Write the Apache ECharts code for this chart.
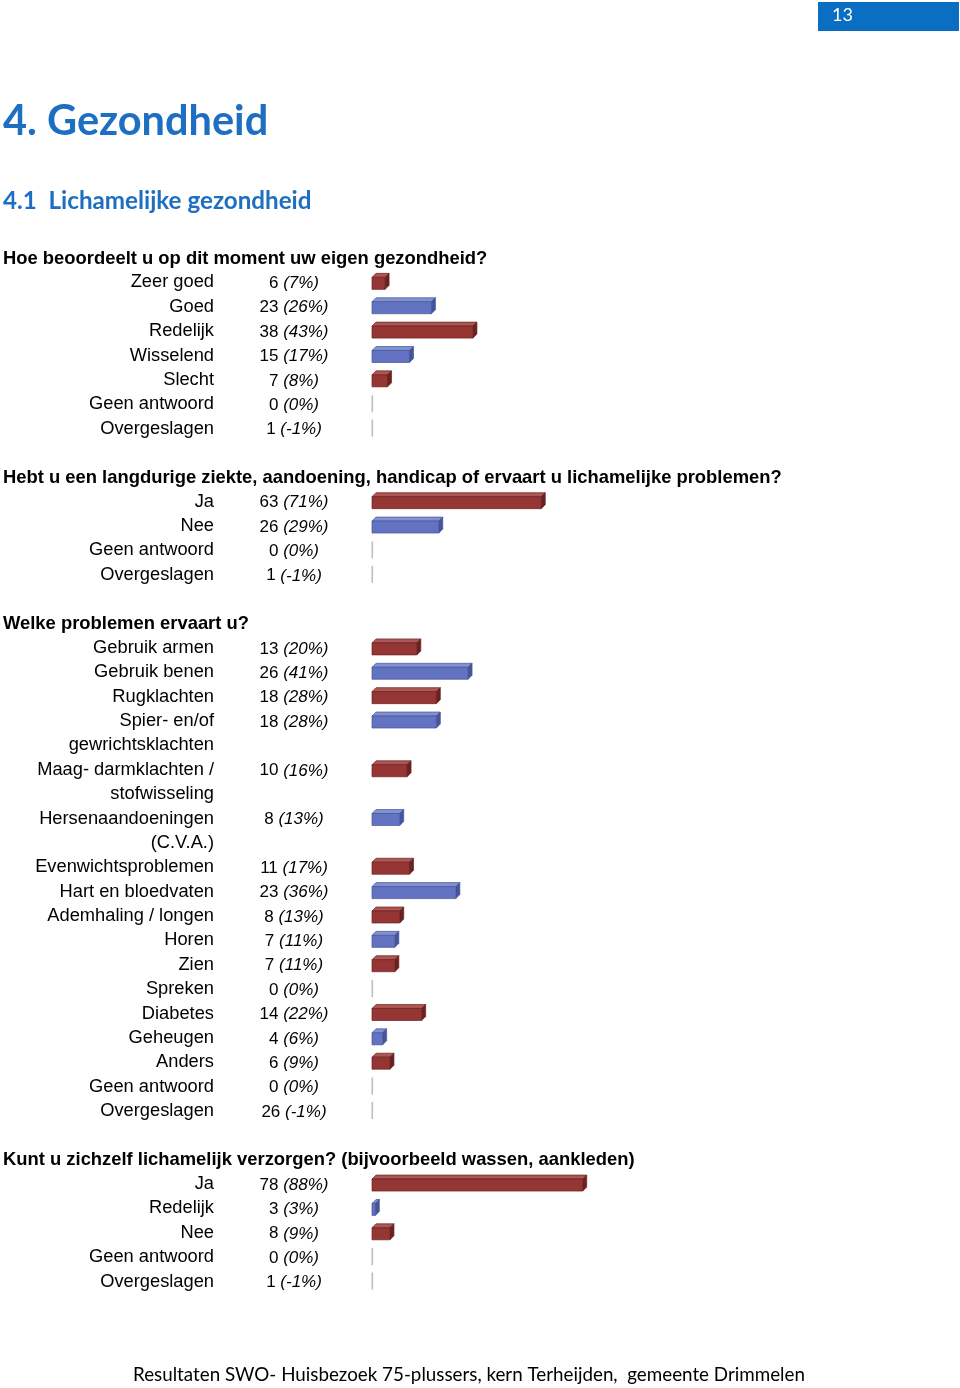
<!DOCTYPE html>
<html>
<head>
<meta charset="utf-8">
<script src="https://cdn.jsdelivr.net/npm/echarts@6/dist/echarts.min.js"></script>
<style>
html,body{margin:0;padding:0;background:#fff;}
#chart{width:960px;height:1388px;}
</style>
</head>
<body>
<div id="chart"></div>
<script>
// ---- Data ----
var pageNumber = '13';
var chapterTitle = '4. Gezondheid';
var sectionTitle = '4.1  Lichamelijke gezondheid';
var footerText = 'Resultaten SWO- Huisbezoek 75-plussers, kern Terheijden,  gemeente Drimmelen';

var q1Title = 'Hoe beoordeelt u op dit moment uw eigen gezondheid?';
var q1Categories = ['Zeer goed', 'Goed', 'Redelijk', 'Wisselend', 'Slecht', 'Geen antwoord', 'Overgeslagen'];
var q1Counts = [6, 23, 38, 15, 7, 0, 1];
var q1Percents = [7, 26, 43, 17, 8, 0, -1];

var q2Title = 'Hebt u een langdurige ziekte, aandoening, handicap of ervaart u lichamelijke problemen?';
var q2Categories = ['Ja', 'Nee', 'Geen antwoord', 'Overgeslagen'];
var q2Counts = [63, 26, 0, 1];
var q2Percents = [71, 29, 0, -1];

var q3Title = 'Welke problemen ervaart u?';
var q3Categories = ['Gebruik armen', 'Gebruik benen', 'Rugklachten', 'Spier- en/of\ngewrichtsklachten',
  'Maag- darmklachten /\nstofwisseling', 'Hersenaandoeningen\n(C.V.A.)', 'Evenwichtsproblemen',
  'Hart en bloedvaten', 'Ademhaling / longen', 'Horen', 'Zien', 'Spreken', 'Diabetes', 'Geheugen',
  'Anders', 'Geen antwoord', 'Overgeslagen'];
var q3Counts = [13, 26, 18, 18, 10, 8, 11, 23, 8, 7, 7, 0, 14, 4, 6, 0, 26];
var q3Percents = [20, 41, 28, 28, 16, 13, 17, 36, 13, 11, 11, 0, 22, 6, 9, 0, -1];

var q4Title = 'Kunt u zichzelf lichamelijk verzorgen? (bijvoorbeeld wassen, aankleden)';
var q4Categories = ['Ja', 'Redelijk', 'Nee', 'Geen antwoord', 'Overgeslagen'];
var q4Counts = [78, 3, 8, 0, 1];
var q4Percents = [88, 3, 9, 0, -1];

// ---- Layout / style ----
var LH = 24.37;          // line pitch of the text flow
var FIRST_HEAD_Y = 258;  // centre of first question heading
var GRID_LEFT = 372;
var GRID_WIDTH = 244;    // 100 %
var LABEL_X = 214;
var COUNT_X = 294;
var FONT = '"Liberation Sans", Arial, sans-serif';
var TITLE_FONT = 'Lato, "Open Sans", sans-serif';
var BLUE_TITLE = '#1E6EC2';
var COLORS = [
  {front: '#963634', top: '#AD5653', side: '#6A2220', edge: '#6A2220'},
  {front: '#6373C1', top: '#8291D0', side: '#45549B', edge: '#45549B'}
];

var questions = [
  {title: q1Title, cats: q1Categories, counts: q1Counts, pcts: q1Percents},
  {title: q2Title, cats: q2Categories, counts: q2Counts, pcts: q2Percents},
  {title: q3Title, cats: q3Categories, counts: q3Counts, pcts: q3Percents},
  {title: q4Title, cats: q4Categories, counts: q4Counts, pcts: q4Percents}
];

var grids = [], xAxes = [], yAxes = [], series = [], graphics = [];
var line = 0; // line counter in the text flow (0 = first heading)

questions.forEach(function (q, qi) {
  // expand multi-line categories into text slots
  var slots = [], data = [];
  q.cats.forEach(function (c, i) {
    var parts = c.split('\n');
    data.push([q.pcts[i], slots.length, q.counts[i], i]);
    parts.forEach(function (p) { slots.push(p); });
  });
  var headY = FIRST_HEAD_Y + line * LH;
  graphics.push({
    type: 'text', left: 3, top: headY - 8.5,
    style: {text: q.title, font: 'bold 18.4px ' + FONT, fill: '#000'}
  });
  var top = headY + LH - LH / 2;
  grids.push({left: GRID_LEFT, top: top, width: GRID_WIDTH, height: slots.length * LH, containLabel: false});
  xAxes.push({gridIndex: qi, type: 'value', min: 0, max: 100, show: false});
  yAxes.push({
    gridIndex: qi, type: 'category', data: slots, inverse: true,
    axisLine: {show: false}, axisTick: {show: false}, splitLine: {show: false},
    axisLabel: {
      interval: 0, margin: GRID_LEFT - LABEL_X, color: '#000',
      fontSize: 18.3, fontFamily: FONT, padding: [3, 0, 0, 0]
    }
  });
  series.push({
    type: 'custom', xAxisIndex: qi, yAxisIndex: qi,
    encode: {x: 0, y: 1},
    data: data,
    renderItem: function (params, api) {
      var pct = api.value(0), slot = api.value(1), cnt = api.value(2), idx = api.value(3);
      var p0 = api.coord([0, slot]);
      var p1 = api.coord([Math.max(pct, 0), slot]);
      var cy = p0[1];
      var x0 = p0[0];
      var children = [];
      var pctTxt = '(' + pct + '%)';
      children.push({
        type: 'text',
        style: {
          x: x0 - (GRID_LEFT - COUNT_X), y: cy + 1,
          text: '{n|' + cnt + ' }{p|' + pctTxt + '}',
          align: 'center', verticalAlign: 'middle',
          rich: {
            n: {font: '17px ' + FONT, fill: '#000'},
            p: {font: 'italic 17px ' + FONT, fill: '#000'}
          }
        }
      });
      if (pct <= 0) {
        children.push({
          type: 'rect',
          shape: {x: x0 - 0.5, y: cy - 9, width: 1.6, height: 17},
          style: {fill: '#BDBDBD'}
        });
      } else {
        var c = COLORS[idx % 2];
        var d = 4;
        var x1 = p1[0];
        var fx1 = Math.max(x1 - d, x0 + 2);
        var ft = cy - 5, fb = cy + 7;
        children.push({
          type: 'polygon',
          shape: {points: [[x0, ft], [x0 + d, ft - d], [fx1 + d, ft - d], [fx1, ft]]},
          style: {fill: c.top, stroke: c.edge, lineWidth: 0.7}
        });
        children.push({
          type: 'polygon',
          shape: {points: [[fx1, ft], [fx1 + d, ft - d], [fx1 + d, fb - d], [fx1, fb]]},
          style: {fill: c.side, stroke: c.edge, lineWidth: 0.7}
        });
        children.push({
          type: 'rect',
          shape: {x: x0, y: ft, width: fx1 - x0, height: fb - ft},
          style: {fill: c.front, stroke: c.edge, lineWidth: 0.7}
        });
      }
      return {type: 'group', children: children};
    }
  });
  line += slots.length + 2;
});

// page header / footer
graphics.push({type: 'rect', shape: {x: 818, y: 2, width: 141, height: 29}, style: {fill: '#0A6FC2'}});
graphics.push({type: 'text', left: 832, top: 6, style: {text: pageNumber, font: '18px ' + TITLE_FONT, fill: '#fff'}});
graphics.push({type: 'text', left: 3, top: 101, style: {text: chapterTitle, font: 'bold 41.5px ' + TITLE_FONT, fill: BLUE_TITLE}});
graphics.push({type: 'text', left: 3, top: 189, style: {text: sectionTitle, font: 'bold 24.2px ' + TITLE_FONT, fill: BLUE_TITLE}});
graphics.push({type: 'text', left: 133, top: 1365, style: {text: footerText, font: '18.8px ' + TITLE_FONT, fill: '#000'}});

var chart = echarts.init(document.getElementById('chart'), null, {renderer: 'canvas'});
chart.setOption({
  animation: false,
  backgroundColor: '#fff',
  grid: grids,
  xAxis: xAxes,
  yAxis: yAxes,
  series: series,
  graphic: graphics
});
</script>
</body>
</html>
